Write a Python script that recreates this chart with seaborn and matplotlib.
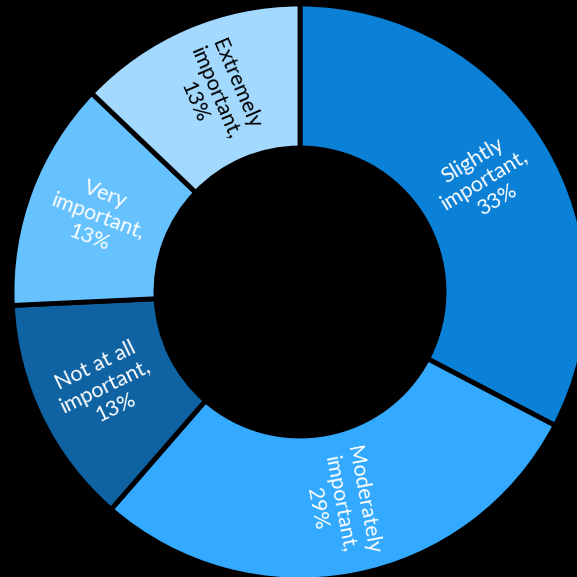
import numpy as np
import matplotlib
matplotlib.use("Agg")
import matplotlib.pyplot as plt
import seaborn as sns

categories = ["Slightly important", "Moderately important", "Not at all important",
              "Very important", "Extremely important"]
label_lines = ["Slightly\nimportant,", "Moderately\nimportant,", "Not at all\nimportant,",
               "Very\nimportant,", "Extremely\nimportant,"]
percentages = [33, 29, 13, 13, 13]
slice_colors = ["#0A80D6", "#33AAFF", "#0F63A3", "#66C2FF", "#A3D9FF"]
text_colors = ["white", "white", "white", "white", "black"]

sns.set_style("white")
plt.rcParams["font.family"] = ["Lato", "DejaVu Sans"]

fig = plt.figure(figsize=(5.77, 5.77), dpi=100, facecolor="black")
ax = fig.add_axes([0, 0, 1, 1])
ax.set_facecolor("black")

outer = 1.0
width = 0.5
wedges, _ = ax.pie(
    percentages,
    radius=outer,
    colors=slice_colors,
    startangle=90,
    counterclock=False,
    wedgeprops=dict(width=width, edgecolor="black", linewidth=3.5),
)

mid_r = outer - width / 2
for w, lines, pct, tc in zip(wedges, label_lines, percentages, text_colors):
    ang = (w.theta1 + w.theta2) / 2.0
    x = mid_r * np.cos(np.radians(ang))
    y = mid_r * np.sin(np.radians(ang))
    a = (ang + 180) % 360 - 180
    rot = a if -90 < a <= 90 else a - 180 if a > 90 else a + 180
    ax.text(x, y, f"{lines}\n{pct}%", ha="center", va="center", rotation=rot,
            rotation_mode="anchor", color=tc, fontsize=15.5, linespacing=1.2,
            multialignment="center")

ax.set_xlim(-1.0417, 0.9618)
ax.set_ylim(-0.9896, 1.0139)
ax.set_aspect("equal")
ax.axis("off")

fig.savefig("out.png", dpi=100, facecolor="black")
